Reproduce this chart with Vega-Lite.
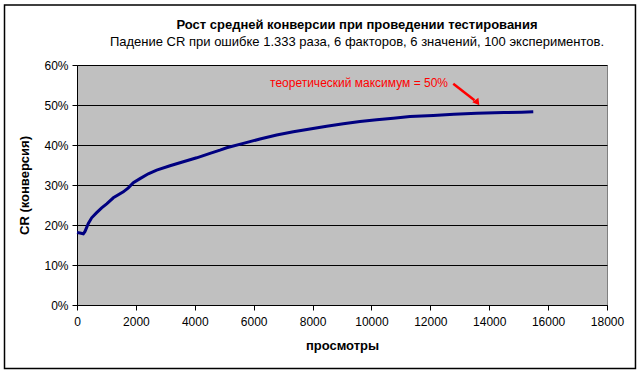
{
  "$schema": "https://vega.github.io/schema/vega-lite/v6.json",
  "width": 530,
  "height": 240,
  "autosize": "none",
  "padding": {"left": 77, "top": 65, "right": 34, "bottom": 69},
  "background": "white",
  "title": {
    "text": "Рост средней конверсии при проведении тестирования",
    "subtitle": "Падение CR при ошибке 1.333 раза, 6 факторов, 6 значений, 100 экспериментов.",
    "anchor": "middle",
    "frame": "group",
    "dx": 15,
    "offset": -45,
    "font": "Liberation Sans",
    "fontSize": 13,
    "fontWeight": "bold",
    "color": "black",
    "subtitleFont": "Liberation Sans",
    "subtitleFontSize": 13,
    "subtitleColor": "black",
    "subtitlePadding": 4
  },
  "config": {
    "view": {"fill": "#C0C0C0", "stroke": "#808080", "strokeWidth": 1},
    "axis": {
      "labelFont": "Liberation Sans",
      "labelFontSize": 12,
      "labelColor": "black",
      "titleFont": "Liberation Sans",
      "titleFontSize": 13,
      "titleFontWeight": "bold",
      "titleColor": "black",
      "domainColor": "black",
      "tickColor": "black",
      "tickSize": 5,
      "domainWidth": 1,
      "tickWidth": 1
    }
  },
  "datasets": {
    "curve": [
      {"x": 0, "y": 0.181},
      {"x": 100, "y": 0.180},
      {"x": 215, "y": 0.178},
      {"x": 272, "y": 0.184},
      {"x": 385, "y": 0.204},
      {"x": 498, "y": 0.218},
      {"x": 668, "y": 0.231},
      {"x": 838, "y": 0.243},
      {"x": 1008, "y": 0.253},
      {"x": 1234, "y": 0.268},
      {"x": 1573, "y": 0.283},
      {"x": 1743, "y": 0.293},
      {"x": 1913, "y": 0.306},
      {"x": 2140, "y": 0.316},
      {"x": 2422, "y": 0.328},
      {"x": 2706, "y": 0.337},
      {"x": 3158, "y": 0.348},
      {"x": 3610, "y": 0.358},
      {"x": 4065, "y": 0.368},
      {"x": 4517, "y": 0.379},
      {"x": 4856, "y": 0.387},
      {"x": 5084, "y": 0.393},
      {"x": 5649, "y": 0.404},
      {"x": 6215, "y": 0.415},
      {"x": 6781, "y": 0.425},
      {"x": 7347, "y": 0.433},
      {"x": 7913, "y": 0.440},
      {"x": 8479, "y": 0.447},
      {"x": 9044, "y": 0.453},
      {"x": 9611, "y": 0.459},
      {"x": 10177, "y": 0.463},
      {"x": 10742, "y": 0.467},
      {"x": 11309, "y": 0.471},
      {"x": 12100, "y": 0.474},
      {"x": 12800, "y": 0.477},
      {"x": 13574, "y": 0.4795},
      {"x": 14500, "y": 0.481},
      {"x": 15100, "y": 0.482},
      {"x": 15496, "y": 0.483}
    ],
    "note": [
      {"x": 12600, "y": 0.555, "label": "теоретический максимум = 50%"}
    ],
    "arrow": [
      {"x": 12779, "y": 0.553, "x2": 13500, "y2": 0.512}
    ],
    "head": [
      {"x": 13574, "y": 0.508}
    ],
    "frame": [
      {"x": -2462, "x2": 18967, "y": 0.75, "y2": -0.159}
    ]
  },
  "encoding": {
    "x": {
      "field": "x", "type": "quantitative",
      "scale": {"domain": [0, 18000], "nice": false, "zero": false},
      "axis": {"title": "просмотры", "format": "d", "values": [0,2000,4000,6000,8000,10000,12000,14000,16000,18000], "grid": false, "labelPadding": 6, "titlePadding": 12, "labelFlush": false, "labelOverlap": false}
    },
    "y": {
      "field": "y", "type": "quantitative",
      "scale": {"domain": [0, 0.6], "nice": false},
      "axis": {"title": "CR (конверсия)", "format": ".0%", "values": [0,0.1,0.2,0.3,0.4,0.5,0.6], "grid": true, "gridColor": "black", "gridOpacity": 1, "gridWidth": 1, "labelPadding": 4, "titlePadding": 12, "labelOverlap": false}
    }
  },
  "layer": [
    {
      "data": {"name": "curve"},
      "mark": {"type": "line", "color": "#000080", "strokeWidth": 3}
    },
    {
      "data": {"name": "frame"},
      "mark": {"type": "rect", "fill": null, "filled": false, "stroke": "black", "strokeWidth": 1.5, "clip": false},
      "encoding": {
        "x2": {"field": "x2"},
        "y2": {"field": "y2"}
      }
    },
    {
      "data": {"name": "arrow"},
      "mark": {"type": "rule", "color": "#FF0000", "strokeWidth": 2.5, "clip": false},
      "encoding": {
        "x2": {"field": "x2"},
        "y2": {"field": "y2"}
      }
    },
    {
      "data": {"name": "head"},
      "mark": {"type": "point", "shape": "triangle", "filled": true, "color": "#FF0000", "size": 60, "angle": 143, "opacity": 1}
    },
    {
      "data": {"name": "note"},
      "mark": {"type": "text", "align": "right", "baseline": "middle", "font": "Liberation Sans", "fontSize": 12, "color": "#FF0000"},
      "encoding": {
        "text": {"field": "label"}
      }
    }
  ]
}
